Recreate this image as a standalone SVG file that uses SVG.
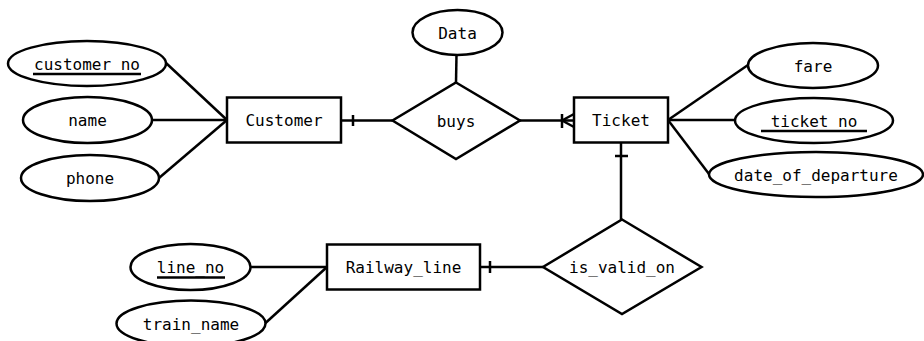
<svg xmlns="http://www.w3.org/2000/svg" width="924" height="341" viewBox="0 0 924 341">
<style>
.s{fill:#fff;stroke:#000;stroke-width:2.5}
.l{fill:none;stroke:#000;stroke-width:2.5}
text{font-family:"DejaVu Sans Mono","Liberation Mono",monospace;font-size:16px;fill:#000;text-anchor:middle}
.u{stroke:#000;stroke-width:2.5}
</style>
<rect width="924" height="341" fill="#fff"/>
<g id="connectors">
<line class="l" x1="166" y1="63" x2="227" y2="120"/>
<line class="l" x1="152" y1="120" x2="227" y2="120"/>
<line class="l" x1="159" y1="178" x2="227" y2="120"/>
<line class="l" x1="341" y1="120.5" x2="392.5" y2="120.5"/>
<line class="l" x1="353" y1="115" x2="353" y2="126"/>
<line class="l" x1="456.5" y1="55" x2="456" y2="82.5"/>
<line class="l" x1="520" y1="120.5" x2="574" y2="120.5"/>
<line class="l" x1="562" y1="114" x2="562" y2="128"/>
<line class="l" x1="562" y1="120.5" x2="574" y2="114"/>
<line class="l" x1="562" y1="120.5" x2="574" y2="127"/>
<line class="l" x1="668" y1="120" x2="748" y2="65"/>
<line class="l" x1="668" y1="120" x2="735" y2="120"/>
<line class="l" x1="668" y1="120" x2="709" y2="174"/>
<line class="l" x1="621" y1="142.5" x2="621" y2="219.5"/>
<line class="l" x1="615" y1="156" x2="628" y2="156"/>
<line class="l" x1="250" y1="267" x2="327" y2="267"/>
<line class="l" x1="265.5" y1="323" x2="327" y2="267"/>
<line class="l" x1="480" y1="267" x2="543" y2="267"/>
<line class="l" x1="490" y1="261" x2="490" y2="273"/>
</g>
<g id="customer_no"><ellipse class="s" cx="87" cy="63.5" rx="79" ry="22.5"/><text x="87" y="69.5">customer_no</text><line class="u" x1="33" y1="74" x2="141" y2="74"/></g>
<g id="name"><ellipse class="s" cx="87.5" cy="120" rx="64.5" ry="23"/><text x="87.5" y="126">name</text></g>
<g id="phone"><ellipse class="s" cx="90" cy="178" rx="69" ry="23"/><text x="90" y="184">phone</text></g>
<g id="Customer"><rect class="s" x="227" y="97.5" width="114" height="45"/><text x="284" y="126">Customer</text></g>
<g id="buys"><polygon class="s" points="456,82.5 520,120.5 456,159 392.5,120.5"/><text x="456" y="126.5">buys</text></g>
<g id="Data"><ellipse class="s" cx="457.5" cy="32.5" rx="45" ry="22.5"/><text x="457.5" y="38.5">Data</text></g>
<g id="Ticket"><rect class="s" x="574" y="97.5" width="94" height="45"/><text x="621" y="126">Ticket</text></g>
<g id="fare"><ellipse class="s" cx="813" cy="65.5" rx="65" ry="22.5"/><text x="813" y="71.5">fare</text></g>
<g id="ticket_no"><ellipse class="s" cx="814" cy="120.5" rx="79" ry="22.5"/><text x="814" y="126.5">ticket_no</text><line class="u" x1="761" y1="131" x2="867" y2="131"/></g>
<g id="date_of_departure"><ellipse class="s" cx="816" cy="174.5" rx="107" ry="22.5"/><text x="816" y="180.5">date_of_departure</text></g>
<g id="is_valid_on"><polygon class="s" points="622,219.5 701.5,267 622,314 543,267"/><text x="622" y="273">is_valid_on</text></g>
<g id="Railway_line"><rect class="s" x="327" y="244.5" width="153" height="45"/><text x="403.5" y="273">Railway_line</text></g>
<g id="line_no"><ellipse class="s" cx="190.5" cy="267" rx="60" ry="23"/><text x="190.5" y="273">line_no</text><line class="u" x1="157" y1="277.5" x2="225" y2="277.5"/></g>
<g id="train_name"><ellipse class="s" cx="191" cy="323.5" rx="74.5" ry="23"/><text x="191" y="329.5">train_name</text></g>
</svg>
